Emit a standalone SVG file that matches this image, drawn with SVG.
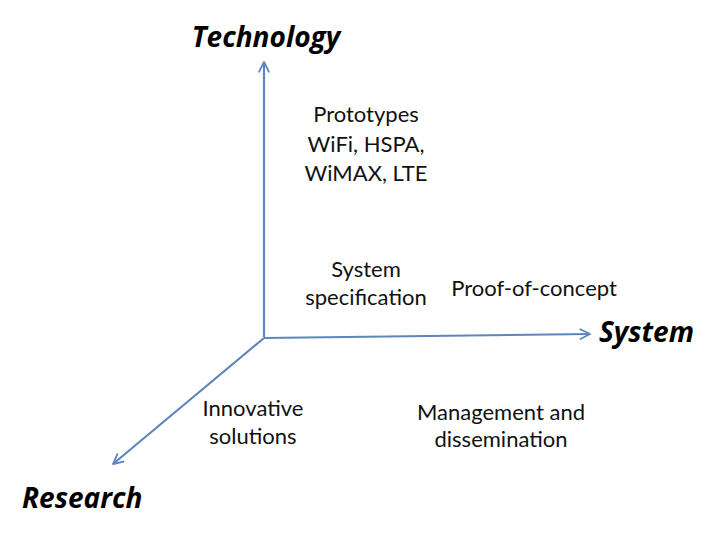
<svg xmlns="http://www.w3.org/2000/svg" width="720" height="540" viewBox="0 0 720 540">
<defs>
<marker id="arr" viewBox="0 0 10 10" refX="9" refY="5" markerWidth="5.5" markerHeight="5.5" orient="auto" markerUnits="strokeWidth">
<path d="M1,1 L9,5 L1,9" fill="none" stroke="#5f85bd" stroke-width="1.5" stroke-linecap="round" stroke-linejoin="round"/>
</marker>
<style>
.ax{stroke:#5f85bd;stroke-width:2.2;fill:none;marker-end:url(#arr)}
.lbl{font-family:Lato,"Open Sans","Liberation Sans",sans-serif;font-size:22px;fill:#111;text-anchor:middle}
.axl{font-family:"Open Sans","Liberation Sans",sans-serif;font-size:28px;font-weight:bold;font-style:italic;fill:#000}
</style>
</defs>
<rect width="720" height="540" fill="#fff"/>
<g id="connectors">
<line class="ax" x1="264" y1="337" x2="264" y2="62"/>
<line class="ax" x1="264" y1="338" x2="590" y2="334"/>
<line class="ax" x1="264" y1="338" x2="113" y2="464"/>
</g>
<g id="technology"><text class="axl" x="266" y="47" text-anchor="middle">Technology</text></g>
<g id="system-axis"><text class="axl" x="599" y="342">System</text></g>
<g id="research"><text class="axl" x="22" y="508">Research</text></g>
<g id="prototypes"><text class="lbl" x="366" y="122">Prototypes</text><text class="lbl" x="366" y="152">WiFi, HSPA,</text><text class="lbl" x="366" y="181">WiMAX, LTE</text></g>
<g id="system-spec"><text class="lbl" x="366" y="277">System</text><text class="lbl" x="366" y="305">specification</text></g>
<g id="proof"><text class="lbl" x="534" y="296">Proof-of-concept</text></g>
<g id="innovative"><text class="lbl" x="253" y="416">Innovative</text><text class="lbl" x="253" y="444">solutions</text></g>
<g id="management"><text class="lbl" x="501" y="420">Management and</text><text class="lbl" x="501" y="447">dissemination</text></g>
</svg>
